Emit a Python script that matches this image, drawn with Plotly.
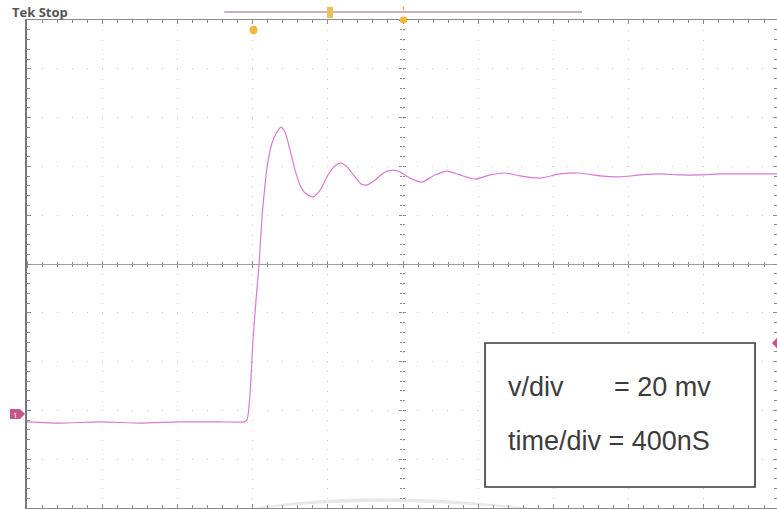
import plotly.graph_objects as go

# step response (time in ns, amplitude in mV about screen centre)
t_ns = [0, 176, 388, 601, 814, 1027, 1154, 1170, 1186, 1202, 1218, 1234, 1250, 1266, 1277,
        1303, 1330, 1351, 1372, 1399, 1426, 1452, 1479, 1521, 1559, 1601, 1638, 1670, 1702,
        1745, 1777, 1809, 1851, 1904, 1947, 1984, 2037, 2101, 2170, 2234, 2303, 2383, 2463,
        2543, 2622, 2729, 2835, 2941, 3048, 3154, 3261, 3367, 3473, 3580, 3686, 3793, 3899, 3989]
v_mv = [-64.7, -65.2, -64.7, -65.2, -64.7, -64.7, -64.7, -63.9, -53.7, -31.1, -14.8, -0.4, 19.3,
        32.4, 39.8, 49.6, 54.1, 56.1, 54.1, 46.7, 38.5, 32.4, 29.1, 27.5, 30.3, 36.5, 40.2, 41.4,
        39.8, 35.7, 32.8, 32.4, 34.4, 37.7, 38.5, 37.7, 35.2, 33.6, 36.5, 38.1, 36.5, 34.8, 36.5,
        37.3, 36.1, 35.2, 36.9, 37.3, 36.1, 35.7, 36.5, 36.9, 36.5, 36.5, 36.9, 36.9, 36.9, 36.9]

time_per_div = 400   # ns
volt_per_div = 20    # mV

x_range = [0, 3989]
y_range = [-100, 100]

grat = "#8a8a8a"
trace_col = "#d97ad3"
orange = "#f5b73a"
ch_col = "#c4568f"

fig = go.Figure()

fig.add_trace(go.Scatter(x=t_ns, y=v_mv, mode="lines",
                         line=dict(color=trace_col, width=1.2, shape="spline", smoothing=0.6),
                         hoverinfo="skip", showlegend=False))
# empty traces so the centre graticule axes get drawn
fig.add_trace(go.Scatter(x=[], y=[], xaxis="x2", yaxis="y2", showlegend=False))
fig.add_trace(go.Scatter(x=[], y=[], xaxis="x3", yaxis="y3", showlegend=False))

minor_x = dict(dtick=time_per_div / 5, ticks="inside", ticklen=3, tickcolor=grat, showgrid=False)
minor_y = dict(dtick=volt_per_div / 5, ticks="inside", ticklen=3, tickcolor=grat, showgrid=False)

fig.update_layout(
    width=777, height=509,
    margin=dict(l=27, r=0, t=20, b=1, autoexpand=False),
    paper_bgcolor="white", plot_bgcolor="white",
    xaxis=dict(range=x_range, dtick=time_per_div, showticklabels=False, automargin=False,
               showgrid=True, gridcolor="#d2d2d2", griddash="1px,8.76px", gridwidth=1,
               zeroline=False, showline=True, linecolor=grat, linewidth=1.2, mirror="ticks",
               ticks="inside", ticklen=4, tickcolor=grat, minor=minor_x),
    yaxis=dict(range=y_range, dtick=volt_per_div, showticklabels=False, automargin=False,
               showgrid=True, gridcolor="#d2d2d2", griddash="1px,14px", gridwidth=1,
               zeroline=False, showline=True, linecolor="#777777", linewidth=1.6, mirror="ticks",
               ticks="inside", ticklen=4, tickcolor=grat, minor=minor_y),
    # centre cross of the graticule
    xaxis2=dict(range=x_range, overlaying="x", anchor="free", position=0.5, side="bottom",
                automargin=False,
                showline=True, linecolor="#a0a0a0", linewidth=1, showgrid=False, zeroline=False,
                showticklabels=False, dtick=time_per_div, ticks="outside", ticklen=3,
                tickcolor=grat,
                minor=dict(dtick=time_per_div / 5, ticks="outside", ticklen=2, tickcolor=grat)),
    yaxis2=dict(range=y_range, overlaying="y", anchor="free", position=0.5, side="left",
                automargin=False,
                showline=False, showgrid=False, zeroline=False, showticklabels=False,
                dtick=volt_per_div, ticks="outside", ticklen=3, tickcolor=grat,
                minor=dict(dtick=volt_per_div / 5, ticks="outside", ticklen=2, tickcolor=grat)),
    xaxis3=dict(range=x_range, overlaying="x", anchor="free", position=0.5, side="top",
                automargin=False,
                showline=False, showgrid=False, zeroline=False, showticklabels=False,
                dtick=time_per_div, ticks="outside", ticklen=3, tickcolor=grat,
                minor=dict(dtick=time_per_div / 5, ticks="outside", ticklen=2, tickcolor=grat)),
    yaxis3=dict(range=y_range, overlaying="y", anchor="free", position=0.5, side="right",
                automargin=False,
                showline=False, showgrid=False, zeroline=False, showticklabels=False,
                dtick=volt_per_div, ticks="outside", ticklen=3, tickcolor=grat,
                minor=dict(dtick=volt_per_div / 5, ticks="outside", ticklen=2, tickcolor=grat)),
    showlegend=False,
)

shapes = [
    # faint scanner arc at the bottom
    dict(type="path", xref="paper", yref="paper",
         path="M 0.27,-0.01 Q 0.45,0.05 0.72,-0.01 Q 0.45,0.035 0.27,-0.01 Z",
         fillcolor="rgba(205,205,205,0.45)", line=dict(width=0), layer="below"),
    # record length bar
    dict(type="line", xref="paper", yref="paper", x0=0.263, x1=0.740, y0=1.0164, y1=1.0164,
         line=dict(color="#b896ae", width=1.5)),
    dict(type="rect", xref="paper", yref="paper", x0=0.400, x1=0.408, y0=1.004, y1=1.027,
         fillcolor="#e9c25a", line=dict(width=0)),
    # trigger position
    dict(type="circle", xref="paper", yref="paper", x0=0.497, x1=0.507, y0=0.993, y1=1.007,
         fillcolor=orange, line=dict(width=0)),
    dict(type="line", xref="paper", yref="paper", x0=0.502, x1=0.502, y0=1.02, y1=1.028,
         line=dict(color=orange, width=1.5)),
    dict(type="circle", xref="paper", yref="paper", x0=0.2967, x1=0.3073, y0=0.971, y1=0.988,
         fillcolor=orange, line=dict(width=0)),
    # channel 1 ground marker
    dict(type="path", xref="paper", yref="paper",
         path="M -0.0227,0.2029 L -0.0093,0.2029 L -0.0027,0.1926 L -0.0093,0.1824 L -0.0227,0.1824 Z",
         fillcolor=ch_col, line=dict(width=0)),
    # trigger level marker
    dict(type="path", xref="paper", yref="paper",
         path="M 0.9933,0.338 L 1.0,0.349 L 1.0,0.327 Z",
         fillcolor=ch_col, line=dict(width=0)),
    # settings box
    dict(type="rect", xref="paper", yref="paper", x0=0.6107, x1=0.9707, y0=0.043, y1=0.3381,
         fillcolor="white", line=dict(color="#3a3a3a", width=1.6)),
]
fig.update_layout(shapes=shapes)

box_font = dict(family="Liberation Sans, Arial, sans-serif", size=27, color="#3c3c3c")
annotations = [
    dict(text="<b>Tek</b> <b>Stop</b>", xref="paper", yref="paper", x=-0.0227, y=1.0,
         xanchor="left", yanchor="bottom", showarrow=False, yshift=-3,
         font=dict(family="Open Sans, sans-serif", size=13, color="#555555")),
    dict(text="1", xref="paper", yref="paper", x=-0.016, y=0.1926, xanchor="center",
         yanchor="middle", showarrow=False, font=dict(size=8, color="white")),
    dict(text="v/div", xref="paper", yref="paper", x=0.6387, y=0.248, xanchor="left",
         yanchor="middle", showarrow=False, font=box_font),
    dict(text="= 20 mv", xref="paper", yref="paper", x=0.78, y=0.248, xanchor="left",
         yanchor="middle", showarrow=False, font=box_font),
    dict(text="time/div = 400nS", xref="paper", yref="paper", x=0.6387, y=0.137,
         xanchor="left", yanchor="middle", showarrow=False, font=box_font),
]
fig.update_layout(annotations=annotations)

# the page's default body margin would shift the chart by 8px
fig.write_html("out.html", config={"displayModeBar": False},
               post_script="document.body.style.margin = '0';")
